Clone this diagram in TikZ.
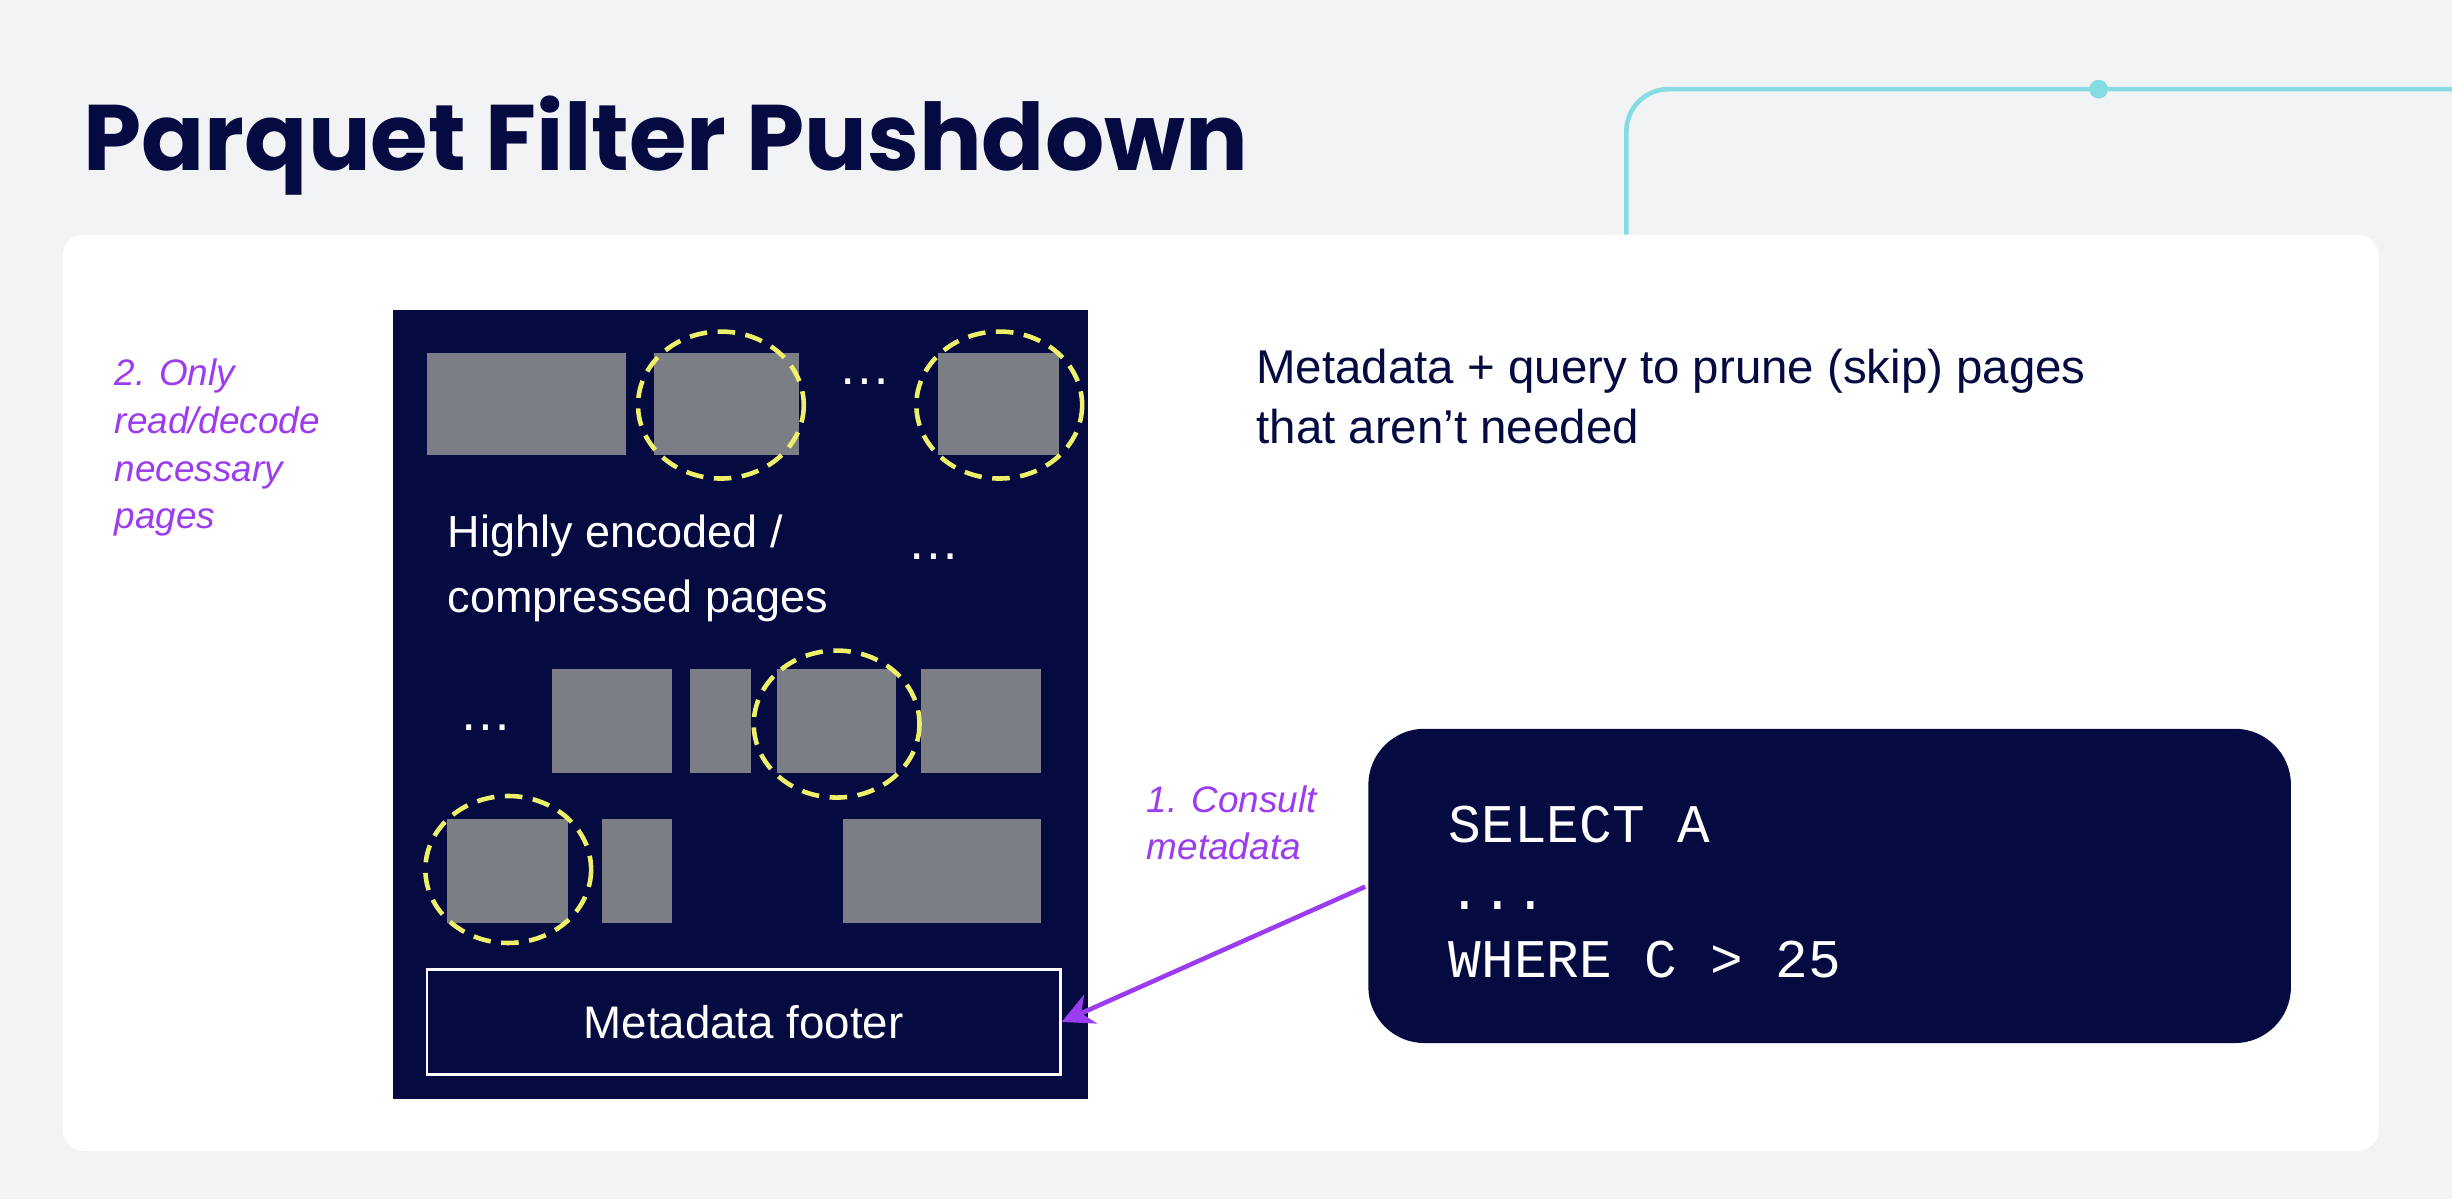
\documentclass[tikz,border=0pt]{standalone}
\usepackage{fontspec}
\setmainfont{Liberation Sans}
\newfontfamily\titlefont{Poppins}
\setmonofont{Liberation Mono}
\usetikzlibrary{positioning,arrows.meta}
\definecolor{navy}{HTML}{050A40}
\definecolor{pagegrey}{HTML}{7B7E85}
\definecolor{hilite}{HTML}{EEF06A}
\definecolor{violet}{HTML}{9B3CF0}
\definecolor{teal}{HTML}{86DCE2}
\definecolor{canvas}{HTML}{F2F3F5}
\begin{document}
\begin{tikzpicture}[x=0.015638cm,y=-0.015638cm,
  page/.style={fill=pagegrey,draw=none},
  pick/.style={draw=hilite,line width=1.3pt,dash pattern=on 5pt off 3pt},
  note/.style={text=violet,font=\itshape\fontsize{10.5}{13.5}\selectfont,align=left,anchor=north west,inner sep=0pt},
  body/.style={font=\fontsize{13.5}{17}\selectfont,align=left,anchor=north west,inner sep=0pt}]
  \fill[canvas] (0,0) rectangle (1568,767);
  \useasboundingbox (0,0) rectangle (1568,767);
  \fill[white,rounded corners=6] (40,150) rectangle (1521,736);
  % decoration line
  \draw[teal,line width=1.3pt,rounded corners=12] (1040,150) -- (1040,57) -- (1568,57);
  \fill[teal] (1342,57) circle (6);
  \node (title) [anchor=west,inner sep=0pt,text=navy,font=\titlefont\bfseries\fontsize{26.5}{32}\selectfont] at (53,93) {Parquet Filter Pushdown};
  % file block
  \fill[navy] (251,198) rectangle (696,703);
  \foreach \a/\b/\c/\d in {273/226/400/291,418/226/511/291,600/226/677/291,
    353/428/430/494,441/428/480/494,497/428/573/494,589/428/666/494,
    286/524/363/590,385/524/430/590,539/524/666/590}
    \fill[page] (\a,\b) rectangle (\c,\d);
  \foreach \x/\y in {461/259,639/259,535/463,325/556}
    \draw[pick] (\x,\y) ellipse (53 and 47);
  \node (dotsA) [text=white,font=\fontsize{15}{15}\selectfont] at (553,244) {\dots};
  \node (dotsB) [text=white,font=\fontsize{15}{15}\selectfont] at (597,356) {\dots};
  \node (dotsC) [text=white,font=\fontsize{15}{15}\selectfont] at (311,465) {\dots};
  \node (pages) [body,text=white,font=\fontsize{12.8}{18.5}\selectfont] at (286,329) {Highly encoded /\\compressed pages};
  \node (footer) [draw=white,line width=0.8pt,text=white,minimum width=405*0.015638cm,minimum height=67*0.015638cm,font=\fontsize{13}{15}\selectfont] at (475.5,653.5) {Metadata footer};
  % query
  \node (query) [fill=navy,rounded corners=16,minimum width=590*0.015638cm,minimum height=201*0.015638cm] at (1170,566.5) {};
  \node (code) [body,text=white,font=\ttfamily\fontsize{15.5}{19.2}\selectfont] at (926,515) {SELECT A\\...\\WHERE C > 25};
  \coordinate (qend) at (873,567);
  \draw[violet,line width=1.3pt,-{Stealth[length=9pt,width=9pt]}] (qend) -- (footer.east);
  % notes
  \node (consult) [note] at (733,502) {1. Consult\\metadata};
  \node (only) [note,font=\itshape\fontsize{10.5}{13.6}\selectfont] at (73,229) {2. Only\\read/decode\\necessary\\pages};
  \node (prune) [body,text=navy] at (803,223) {Metadata + query to prune (skip) pages\\that aren’t needed};
\end{tikzpicture}
\end{document}
